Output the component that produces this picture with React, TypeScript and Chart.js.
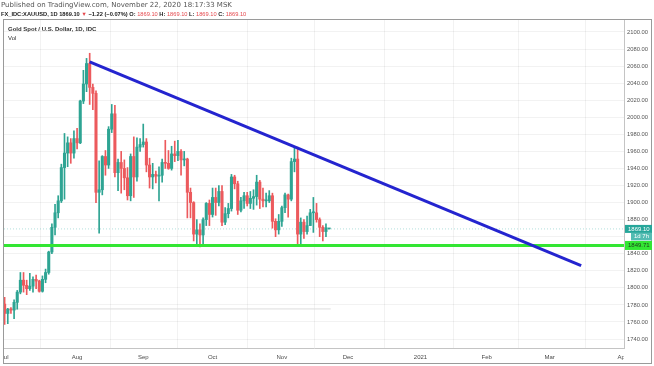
import React, { useEffect, useRef } from "react";
import { Chart, registerables } from "chart.js";

Chart.register(...registerables);

const FONT = "'Liberation Sans', Arial, sans-serif";
const FONT_WIDE = "'DejaVu Sans', Verdana, sans-serif";

// Daily bars, consecutive trading days starting 1 Jul 2020 (index = position on the time axis)
const dayLabels = [
  "2020-07-01","2020-07-02","2020-07-03","2020-07-06","2020-07-07","2020-07-08","2020-07-09","2020-07-10",
  "2020-07-13","2020-07-14","2020-07-15","2020-07-16","2020-07-17","2020-07-20","2020-07-21","2020-07-22",
  "2020-07-23","2020-07-24","2020-07-27","2020-07-28","2020-07-29","2020-07-30","2020-07-31",
  "2020-08-03","2020-08-04","2020-08-05","2020-08-06","2020-08-07","2020-08-10","2020-08-11","2020-08-12",
  "2020-08-13","2020-08-14","2020-08-17","2020-08-18","2020-08-19","2020-08-20","2020-08-21","2020-08-24",
  "2020-08-25","2020-08-26","2020-08-27","2020-08-28","2020-08-31",
  "2020-09-01","2020-09-02","2020-09-03","2020-09-04","2020-09-07","2020-09-08","2020-09-09","2020-09-10",
  "2020-09-11","2020-09-14","2020-09-15","2020-09-16","2020-09-17","2020-09-18","2020-09-21","2020-09-22",
  "2020-09-23","2020-09-24","2020-09-25","2020-09-28","2020-09-29","2020-09-30",
  "2020-10-01","2020-10-02","2020-10-05","2020-10-06","2020-10-07","2020-10-08","2020-10-09","2020-10-12",
  "2020-10-13","2020-10-14","2020-10-15","2020-10-16","2020-10-19","2020-10-20","2020-10-21","2020-10-22",
  "2020-10-23","2020-10-26","2020-10-27","2020-10-28","2020-10-29","2020-10-30",
  "2020-11-02","2020-11-03","2020-11-04","2020-11-05","2020-11-06","2020-11-09","2020-11-10","2020-11-11",
  "2020-11-12","2020-11-13","2020-11-16","2020-11-17","2020-11-18","2020-11-19","2020-11-20","2020-11-23"
];

const opens = [
  1781,1770,1775,1774,1783,1795,1809,1803,1799,1802,1810,1808,1796,1810,1818,1842,1871,1888,1902,1941,1958,1970,1958,
  1975,1970,2019,2039,2063,2035,2028,1912,1915,1954,1944,1986,2004,1935,1947,1940,1929,1908,1954,1930,1965,
  1968,1971,1944,1930,1933,1931,1932,1947,1946,1940,1957,1955,1960,1950,1951,1912,1900,1863,1868,1862,1880,1899,
  1886,1906,1900,1913,1877,1887,1893,1930,1922,1891,1902,1908,1899,1905,1907,1924,1904,1902,1902,1908,1878,1868,
  1878,1894,1909,1904,1948,1951,1863,1877,1866,1873,1888,1888,1880,1871,1866,1869.1
];
const highs = [
  1789,1776,1777,1786,1797,1818,1818,1809,1817,1813,1815,1809,1814,1822,1843,1875,1898,1908,1945,1981,1977,1975,1984,
  1987,2020,2055,2069,2075,2039,2031,1949,1955,1961,1989,2015,2014,1951,1960,1950,1941,1957,1977,1976,1975,
  1992,1975,1952,1946,1937,1942,1951,1973,1961,1966,1972,1973,1962,1960,1952,1917,1901,1880,1875,1882,1900,1903,
  1917,1917,1920,1920,1894,1899,1933,1932,1925,1906,1912,1912,1913,1915,1932,1926,1917,1911,1914,1911,1881,1886,
  1896,1911,1910,1952,1965,1965,1882,1880,1884,1892,1906,1899,1882,1873,1875,1869.1
];
const lows = [
  1757,1758,1770,1764,1775,1793,1795,1792,1797,1795,1799,1795,1795,1806,1816,1840,1862,1882,1900,1904,1942,1946,1952,
  1963,1969,2016,2030,2015,2009,1900,1864,1909,1932,1940,1982,1930,1914,1911,1915,1903,1902,1906,1925,1960,
  1965,1936,1917,1916,1923,1902,1924,1940,1939,1938,1948,1949,1932,1943,1882,1882,1855,1849,1848,1850,1873,1873,
  1883,1885,1896,1873,1874,1882,1890,1916,1886,1889,1893,1896,1893,1892,1897,1893,1895,1895,1900,1870,1860,1863,
  1872,1888,1883,1902,1936,1850,1849,1858,1863,1873,1865,1877,1860,1855,1860,1869.1
];
const closes = [
  1770,1775,1774,1783,1795,1809,1803,1799,1802,1810,1808,1796,1810,1818,1842,1871,1888,1902,1941,1958,1970,1958,1975,
  1970,2019,2039,2063,2035,2028,1912,1915,1954,1944,1986,2004,1935,1947,1940,1929,1908,1954,1930,1965,1968,
  1971,1944,1930,1933,1931,1932,1947,1946,1940,1957,1955,1960,1950,1951,1912,1900,1863,1868,1862,1880,1899,1886,
  1906,1900,1913,1877,1887,1893,1930,1922,1891,1902,1908,1899,1905,1907,1924,1904,1902,1902,1908,1878,1868,1878,
  1894,1909,1904,1948,1951,1863,1877,1866,1873,1888,1888,1880,1871,1866,1870.32,1869.1
];

const monthLabels = ["Jul", "Aug", "Sep", "Oct", "Nov", "Dec", "2021", "Feb", "Mar", "Apr"];
const monthBarIndex = [0, 23, 44, 66, 88, 109, 132, 153, 173, 196];
const priceTicks = [1740, 1760, 1780, 1800, 1820, 1840, 1860, 1880, 1900, 1920, 1940, 1960, 1980, 2000, 2020, 2040, 2060, 2080, 2100];
const hiddenTick = 1860;

const trendX = [27, 183];
const trendY = [2065, 1826];
const supportLevel = 1849.71;
const lastPrice = 1869.1;
const countdown = "1d 7h";
const volBaseLevel = 1775.3;

const X_MIN = -0.2;
const X_MAX = 196.6;
const Y_MIN = 1729.5;
const Y_MAX = 2114;

const UP = "#2ea493";
const DOWN = "#ec5a5d";
const BLUE = "#2424cf";
const GREEN = "#33e633";
const RED_TXT = "#e5484d";

const decorPlugin = {
  id: "decor",
  beforeDraw(chart: any) {
    const ctx = chart.ctx;
    ctx.save();
    ctx.fillStyle = "#ffffff";
    ctx.fillRect(0, 0, chart.width, chart.height);
    ctx.restore();
  },
  afterDraw(chart: any) {
    const ctx = chart.ctx;
    const xs = chart.scales.x;
    const ys = chart.scales.y;
    const area = chart.chartArea;
    ctx.save();

    // header line 1
    ctx.textBaseline = "middle";
    ctx.textAlign = "left";
    ctx.font = `7px ${FONT_WIDE}`;
    ctx.fillStyle = "#555";
    ctx.fillText("Published on TradingView.com, November 22, 2020 18:17:33 MSK", 1, 5.5);

    // header line 2
    const segs: [string, boolean, string][] = [
      ["FX_IDC:XAUUSD, 1D ", true, "#222"],
      ["1869.10 ", true, "#222"],
      ["\u25BC ", false, RED_TXT],
      ["\u22121.22 (\u22120.07%) ", true, "#222"],
      ["O: ", true, "#222"], ["1869.10 ", false, RED_TXT],
      ["H: ", true, "#222"], ["1869.10 ", false, RED_TXT],
      ["L: ", true, "#222"], ["1869.10 ", false, RED_TXT],
      ["C: ", true, "#222"], ["1869.10", false, RED_TXT],
    ];
    let cx = 1;
    for (const [t, b, c] of segs) {
      ctx.font = `${b ? "bold " : ""}5.7px ${FONT}`;
      ctx.fillStyle = c;
      ctx.fillText(t, cx, 14);
      cx += ctx.measureText(t).width;
    }

    // frame
    ctx.strokeStyle = "#9a9a9a";
    ctx.lineWidth = 1;
    ctx.strokeRect(3.5, 19.5, 648, 344);

    // pane title
    ctx.font = `bold 6px ${FONT}`;
    ctx.fillStyle = "#333";
    ctx.fillText("Gold Spot / U.S. Dollar, 1D, IDC", 8, 29);
    ctx.font = `6px ${FONT}`;
    ctx.fillText("Vol", 8, 38);

    // x labels (clipped to pane width)
    ctx.save();
    ctx.beginPath();
    ctx.rect(area.left, area.bottom, area.right - area.left, 18);
    ctx.clip();
    ctx.font = `6px ${FONT}`;
    ctx.fillStyle = "#4a4a4a";
    ctx.textAlign = "center";
    monthLabels.forEach((lab, i) => {
      const px = xs.getPixelForValue(monthBarIndex[i]);
      ctx.fillText(lab, px, 357);
    });
    ctx.restore();

    // right-axis price labels
    const yLast = ys.getPixelForValue(lastPrice);
    const ySup = ys.getPixelForValue(supportLevel);
    ctx.textAlign = "left";
    ctx.fillStyle = "#26a69a";
    ctx.fillRect(625, yLast - 4, 27, 8);
    ctx.fillStyle = "#ffffff";
    ctx.font = `6px ${FONT}`;
    ctx.fillText(lastPrice.toFixed(2), 628, yLast);
    ctx.fillStyle = "#53bcb2";
    ctx.fillRect(631, yLast + 4, 21, 7.5);
    ctx.fillStyle = "#ffffff";
    ctx.fillText(countdown, 634, yLast + 7.8);
    ctx.fillStyle = GREEN;
    ctx.fillRect(625, ySup - 4.5, 27, 9);
    ctx.fillStyle = "#1d3a1d";
    ctx.fillText(supportLevel.toFixed(2), 628, ySup);

    ctx.restore();
  },
};

export default function App() {
  const ref = useRef<HTMLCanvasElement>(null);

  useEffect(() => {
    if (!ref.current) return;
    const n = opens.length;
    const idx = dayLabels.map((_, i) => i);
    const colors = idx.map((i) => (closes[i] >= opens[i] ? UP : DOWN));

    const chart = new Chart(ref.current, {
      type: "bar",
      data: {
        datasets: [
          {
            type: "line",
            label: "Trend",
            data: trendX.map((x, i) => ({ x, y: trendY[i] })),
            borderColor: BLUE,
            borderWidth: 3,
            pointRadius: 0,
          } as any,
          {
            type: "line",
            label: "Support",
            data: [{ x: X_MIN, y: supportLevel }, { x: X_MAX, y: supportLevel }],
            borderColor: GREEN,
            borderWidth: 3,
            pointRadius: 0,
          } as any,
          {
            type: "bar",
            label: "Body",
            data: idx.map((i) => ({ x: i, y: [opens[i], closes[i]] })),
            backgroundColor: colors,
            barThickness: 2.4,
            minBarLength: 1,
            grouped: false,
            borderWidth: 0,
          } as any,
          {
            type: "bar",
            label: "Wick",
            data: idx.map((i) => ({ x: i, y: [lows[i], highs[i]] })),
            backgroundColor: colors,
            barThickness: 1,
            grouped: false,
            borderWidth: 0,
          } as any,
          {
            type: "line",
            label: "Last",
            data: [{ x: X_MIN, y: lastPrice }, { x: X_MAX, y: lastPrice }],
            borderColor: "rgba(38,166,154,0.35)",
            borderWidth: 1,
            borderDash: [1, 2],
            pointRadius: 0,
          } as any,
          {
            type: "line",
            label: "VolBase",
            data: [{ x: X_MIN, y: volBaseLevel }, { x: n - 0.5, y: volBaseLevel }],
            borderColor: "#dcdcdc",
            borderWidth: 1,
            pointRadius: 0,
          } as any,
        ],
      },
      options: {
        animation: false,
        responsive: false,
        devicePixelRatio: 1,
        events: [],
        layout: { padding: { left: 4, top: 20, right: 0, bottom: 0 } },
        plugins: { legend: { display: false }, tooltip: { enabled: false } },
        scales: {
          x: {
            type: "linear",
            min: X_MIN,
            max: X_MAX,
            offset: false,
            afterBuildTicks: (s: any) => {
              s.ticks = monthBarIndex.map((v) => ({ value: v }));
            },
            afterFit: (s: any) => {
              s.height = 18;
            },
            ticks: { display: false },
            grid: { color: "rgba(0,0,0,0.05)", drawTicks: false },
            border: { color: "#c4c4c4" },
          },
          y: {
            type: "linear",
            position: "right",
            min: Y_MIN,
            max: Y_MAX,
            afterBuildTicks: (s: any) => {
              s.ticks = priceTicks.map((v) => ({ value: v }));
            },
            afterFit: (s: any) => {
              s.width = 30;
            },
            ticks: {
              autoSkip: false,
              padding: 3,
              color: "#555",
              font: { size: 5.8, family: FONT },
              callback: (v: any) => (v === hiddenTick ? "" : Number(v).toFixed(2)),
            },
            grid: { color: "rgba(0,0,0,0.05)", drawTicks: false },
            border: { color: "#c4c4c4" },
          },
        },
      } as any,
      plugins: [decorPlugin],
    });
    return () => chart.destroy();
  }, []);

  return (
    <div style={{ position: "fixed", left: 0, top: 0, width: 654, height: 366, background: "#fff" }}>
      <canvas ref={ref} width={654} height={366} style={{ display: "block" }} />
    </div>
  );
}
